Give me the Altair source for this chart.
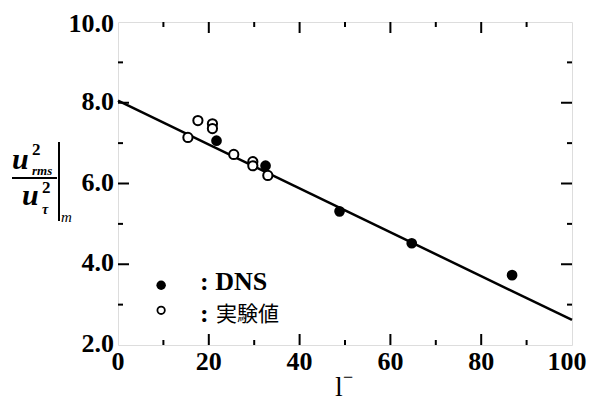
import altair as alt
import pandas as pd

# ---- data ----
dns_x = [21.7, 32.5, 48.8, 64.7, 86.8]
dns_y = [7.06, 6.44, 5.31, 4.52, 3.73]
exp_x = [15.4, 17.6, 20.8, 20.8, 25.5, 29.7, 29.7, 33.0]
exp_y = [7.14, 7.56, 7.48, 7.36, 6.72, 6.54, 6.44, 6.20]
fit_x = [0, 100]
fit_y = [8.05, 2.62]
x_major = [0, 20, 40, 60, 80, 100]
x_minor = [10, 30, 50, 70, 90]
y_major = [2, 4, 6, 8, 10]
y_minor = [3, 5, 7, 9]
x_labels = ["0", "20", "40", "60", "80", "100"]
y_labels = ["2.0", "4.0", "6.0", "8.0", "10.0"]
legend_labels = [": DNS", ": 実験値"]

W, H = 454, 323
SERIF = "Liberation Serif"
JP = "Noto Sans CJK JP"

xs = alt.Scale(domain=[0, 100], nice=False, zero=False)
ys = alt.Scale(domain=[2, 10], nice=False, zero=False)

def X(f="x"):
    return alt.X(f + ":Q", scale=xs, axis=None)

def Y(f="y"):
    return alt.Y(f + ":Q", scale=ys, axis=None)

dns = pd.DataFrame({"x": dns_x, "y": dns_y})
exp = pd.DataFrame({"x": exp_x, "y": exp_y})
fit = pd.DataFrame({"x": fit_x, "y": fit_y})

line = alt.Chart(fit).mark_line(color="black", strokeWidth=2.5).encode(x=X(), y=Y())

pts_dns = alt.Chart(dns).mark_point(shape="circle", filled=True, color="black",
                                    size=115, opacity=1).encode(x=X(), y=Y())

pts_exp = alt.Chart(exp).mark_point(shape="circle", filled=True, fill="white",
                                    stroke="black", strokeWidth=2, size=85,
                                    opacity=1).encode(x=X(), y=Y())

# ---- inward ticks ----
def xticks(vals, length):
    df = pd.DataFrame({"x": vals})
    bot = alt.Chart(df).mark_rule(color="black", strokeWidth=2).encode(
        x=X(), y=alt.value(H), y2=alt.value(H - length))
    top = alt.Chart(df).mark_rule(color="black", strokeWidth=2).encode(
        x=X(), y=alt.value(0), y2=alt.value(length))
    return [bot, top]

def yticks(vals, length):
    df = pd.DataFrame({"y": vals})
    left = alt.Chart(df).mark_rule(color="black", strokeWidth=2).encode(
        y=Y(), x=alt.value(0), x2=alt.value(length))
    right = alt.Chart(df).mark_rule(color="black", strokeWidth=2).encode(
        y=Y(), x=alt.value(W), x2=alt.value(W - length))
    return [left, right]

ticks = (xticks(x_major[1:-1], 11) + xticks(x_minor, 5)
         + yticks(y_major[1:-1], 11) + yticks(y_minor, 5))

# ---- tick labels ----
xdf = pd.DataFrame({"x": x_major, "t": x_labels})
xlab = alt.Chart(xdf.iloc[:-1]).mark_text(
    font=SERIF, fontSize=26, fontWeight="bold", baseline="top", align="center",
    color="black").encode(x=X(), y=alt.value(H + 4), text="t:N")
xlab_last = alt.Chart(xdf.iloc[-1:]).mark_text(
    font=SERIF, fontSize=26, fontWeight="bold", baseline="top", align="center",
    color="black", dx=-5).encode(x=X(), y=alt.value(H + 4), text="t:N")
ydf = pd.DataFrame({"y": y_major, "t": y_labels})
ylab = alt.Chart(ydf.iloc[:-1]).mark_text(
    font=SERIF, fontSize=26, fontWeight="bold", baseline="middle", align="right",
    color="black", dy=-1).encode(y=Y(), x=alt.value(-4), text="t:N")
ylab_top = alt.Chart(ydf.iloc[-1:]).mark_text(
    font=SERIF, fontSize=26, fontWeight="bold", baseline="middle", align="right",
    color="black", dy=2).encode(y=Y(), x=alt.value(-4), text="t:N")

one = pd.DataFrame({"a": [0]})

def txt(s, x, y, size, font=SERIF, style="normal", weight="normal", align="left"):
    return alt.Chart(one).mark_text(text=s, font=font, fontSize=size, fontStyle=style,
                                    fontWeight=weight, align=align, baseline="alphabetic",
                                    color="black").encode(x=alt.value(x), y=alt.value(y))

def rule(x1, y1, x2, y2, w=2):
    return alt.Chart(one).mark_rule(color="black", strokeWidth=w).encode(
        x=alt.value(x1), y=alt.value(y1), x2=alt.value(x2), y2=alt.value(y2))

# y-axis title: u_rms^2 / u_tau^2 |_m   (offsets relative to plot origin)
ytitle = [
    txt("u", -106, 147, 30, style="italic", weight="bold"),
    txt("2", -86, 133, 17, weight="bold"),
    txt("rms", -86, 153, 13, style="italic", weight="bold"),
    rule(-106, 156, -61, 156, 2),
    txt("u", -96, 183, 30, style="italic", weight="bold"),
    txt("2", -76, 171, 17, weight="bold"),
    txt("τ", -76, 192, 14, style="italic", weight="bold"),
    rule(-59, 120, -59, 199, 2),
    txt("m", -57, 200, 15, style="italic"),
]

# x-axis title
xtitle = [
    txt("l", 217, 374, 28),
    txt("−", 225, 361, 18),
]

# legend
leg = [
    alt.Chart(pd.DataFrame({"x": [9.5], "y": [3.48]})).mark_point(
        shape="circle", filled=True, color="black", size=90, opacity=1).encode(
        x=X(), y=Y()),
    alt.Chart(pd.DataFrame({"x": [9.5], "y": [2.86]})).mark_point(
        shape="circle", filled=True, fill="white", stroke="black", strokeWidth=1.8,
        size=55, opacity=1).encode(x=X(), y=Y()),
    txt(legend_labels[0], 82, 268, 26, weight="bold"),
    txt(":", 82, 300, 26, weight="bold"),
    txt(legend_labels[1][2:], 98, 299, 21, font=JP),
]

chart = alt.layer(line, *ticks, pts_exp, pts_dns, xlab, xlab_last, ylab, ylab_top,
                  *ytitle, *xtitle, *leg).properties(
    width=W, height=H,
    autosize=alt.AutoSizeParams(type="none"),
    padding={"left": 110, "top": 14, "right": 15, "bottom": 57},
).configure_view(stroke="black", strokeWidth=2.5).configure(background="white")

chart.save("out.html", embed_options={"renderer": "svg", "actions": False})
